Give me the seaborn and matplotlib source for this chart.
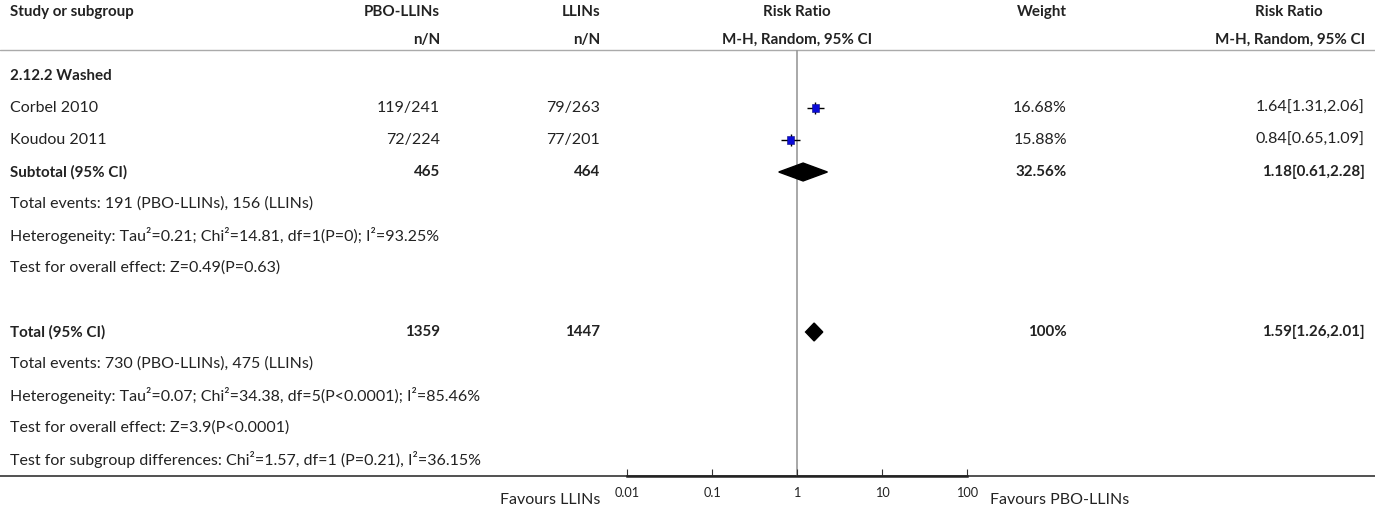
import matplotlib
matplotlib.use("Agg")
import matplotlib.pyplot as plt
import seaborn as sns
import pandas as pd

# study level data
studies = ["Corbel 2010", "Koudou 2011"]
pbo_events = [119, 72]
pbo_total = [241, 224]
llin_events = [79, 77]
llin_total = [263, 201]
rr = [1.64, 0.84]
rr_lo = [1.31, 0.65]
rr_hi = [2.06, 1.09]
weights = [16.68, 15.88]

# pooled estimates
subtotal_n = [465, 464]
subtotal_rr = [1.18, 0.61, 2.28]
subtotal_weight = "32.56%"
total_n = [1359, 1447]
total_rr = [1.59, 1.26, 2.01]
total_weight = "100%"

subgroup_notes = [
    "Total events: 191 (PBO-LLINs), 156 (LLINs)",
    "Heterogeneity: Tau\u00b2=0.21; Chi\u00b2=14.81, df=1(P=0); I\u00b2=93.25%",
    "Test for overall effect: Z=0.49(P=0.63)",
]
total_notes = [
    "Total events: 730 (PBO-LLINs), 475 (LLINs)",
    "Heterogeneity: Tau\u00b2=0.07; Chi\u00b2=34.38, df=5(P<0.0001); I\u00b2=85.46%",
    "Test for overall effect: Z=3.9(P<0.0001)",
    "Test for subgroup differences: Chi\u00b2=1.57, df=1 (P=0.21), I\u00b2=36.15%",
]
ticks = [0.01, 0.1, 1, 10, 100]
tick_labels = ["0.01", "0.1", "1", "10", "100"]

sns.set_theme(style="white")
plt.rcParams["font.family"] = ["Lato", "DejaVu Sans"]
txt = "#222222"
fs = 11.5
fs_bold = 10.9

W, H = 1375, 513
fig = plt.figure(figsize=(W / 100, H / 100), dpi=100)

# background axes in pixel units for the table text
bg = fig.add_axes([0, 0, 1, 1])
bg.set_xlim(0, W)
bg.set_ylim(H, 0)
bg.axis("off")

row0, step = 76, 32
def ry(i):
    return row0 + step * i

x_study, x_pbo, x_llin, x_mid, x_w, x_rr, x_rrh = 10, 440, 600, 797, 1067, 1365, 1289

def put(x, y, s, ha="left", bold=False):
    bg.text(x, y, s, ha=ha, va="center", fontsize=fs_bold if bold else fs, color=txt,
            fontweight="bold" if bold else "normal")

# headers
put(x_study, 12, "Study or subgroup", bold=True)
put(x_pbo, 12, "PBO-LLINs", ha="right", bold=True)
put(x_llin, 12, "LLINs", ha="right", bold=True)
put(x_mid, 12, "Risk Ratio", ha="center", bold=True)
put(x_w, 12, "Weight", ha="right", bold=True)
put(x_rrh, 12, "Risk Ratio", ha="center", bold=True)
put(x_pbo, 40, "n/N", ha="right", bold=True)
put(x_llin, 40, "n/N", ha="right", bold=True)
put(x_mid, 40, "M-H, Random, 95% CI", ha="center", bold=True)
put(x_rr, 40, "M-H, Random, 95% CI", ha="right", bold=True)
bg.plot([0, W], [50, 50], color="#aaaaaa", lw=1)
bg.plot([0, W], [476, 476], color="#333333", lw=1.2)

put(x_study, ry(0), "2.12.2 Washed", bold=True)
for i, name in enumerate(studies):
    y = ry(1 + i)
    put(x_study, y, name)
    put(x_pbo, y, f"{pbo_events[i]}/{pbo_total[i]}", ha="right")
    put(x_llin, y, f"{llin_events[i]}/{llin_total[i]}", ha="right")
    put(x_w, y, f"{weights[i]:.2f}%", ha="right")
    put(x_rr, y, f"{rr[i]:.2f}[{rr_lo[i]:.2f},{rr_hi[i]:.2f}]", ha="right")

def pooled_row(i, label, n, est, w):
    y = ry(i)
    put(x_study, y, label, bold=True)
    put(x_pbo, y, str(n[0]), ha="right", bold=True)
    put(x_llin, y, str(n[1]), ha="right", bold=True)
    put(x_w, y, w, ha="right", bold=True)
    put(x_rr, y, f"{est[0]:.2f}[{est[1]:.2f},{est[2]:.2f}]", ha="right", bold=True)

pooled_row(3, "Subtotal (95% CI)", subtotal_n, subtotal_rr, subtotal_weight)
for k, s in enumerate(subgroup_notes):
    put(x_study, ry(4 + k), s)
pooled_row(8, "Total (95% CI)", total_n, total_rr, total_weight)
for k, s in enumerate(total_notes):
    put(x_study, ry(9 + k), s)

put(600, 500, "Favours LLINs", ha="right")
put(990, 500, "Favours PBO-LLINs")

# forest plot axes
x0, x1, ytop, ybot = 627, 967, 50, 476
ax = fig.add_axes([x0 / W, (H - ybot) / H, (x1 - x0) / W, (ybot - ytop) / H])
ax.patch.set_alpha(0)
ax.set_xscale("log")
ax.set_xlim(0.01, 100)
ax.set_ylim((ybot - row0) / step, (ytop - row0) / step)
for sp in ["top", "left", "right"]:
    ax.spines[sp].set_visible(False)
ax.spines["bottom"].set_color("#222222")
ax.spines["bottom"].set_linewidth(1.8)
ax.set_yticks([])
ax.set_xticks(ticks)
ax.set_xticklabels(tick_labels)
ax.minorticks_off()
ax.tick_params(axis="x", direction="in", length=5, width=0.8, color="#333333",
               labelsize=9.2, labelcolor=txt, pad=8, bottom=True)
ax.axvline(1, color="#999999", lw=1.2, zorder=0)

df = pd.DataFrame({"rr": rr, "lo": rr_lo, "hi": rr_hi, "w": weights,
                   "row": [1 + i for i in range(len(studies))]})
ax.hlines(df["row"], df["lo"], df["hi"], color="black", lw=1)
ax.plot(df["rr"], df["row"], "|", ms=9, mew=1, color="black", zorder=2)
sns.scatterplot(data=df, x="rr", y="row", size="w", size_norm=(0, 100), sizes=(0, 170),
                marker="s", color="#0a0ad8", edgecolor="#0a0a80", linewidth=0.4,
                legend=False, ax=ax, zorder=3)
ax.set_xlabel("")
ax.set_ylabel("")

def diamond(row, est, h=0.28):
    ax.fill([est[1], est[0], est[2], est[0]], [row, row - h, row, row + h],
            color="black", zorder=3)

diamond(3, subtotal_rr)
diamond(8, total_rr)

fig.savefig("out.png", dpi=100)
